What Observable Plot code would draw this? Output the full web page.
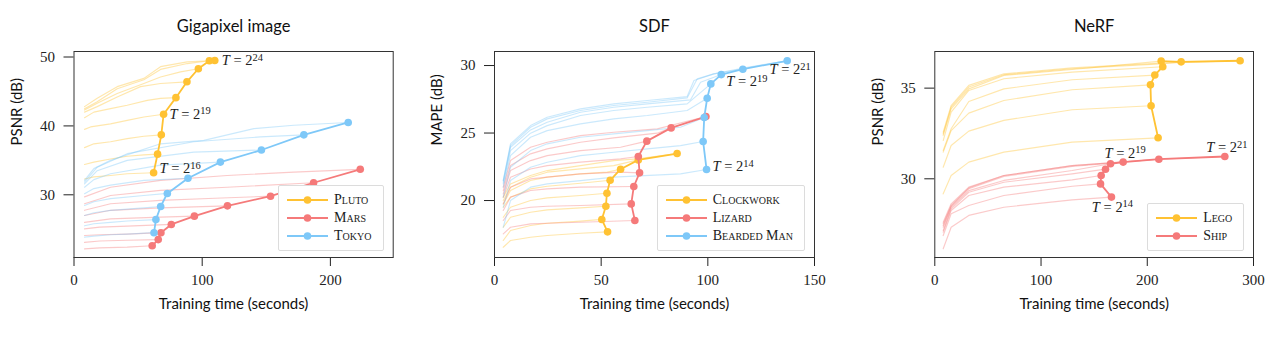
<!DOCTYPE html>
<html><head><meta charset="utf-8">
<script src="https://cdn.jsdelivr.net/npm/d3@7"></script>
<script src="https://cdn.jsdelivr.net/npm/@observablehq/plot@0.6"></script>
<style>
html,body{margin:0;padding:0;background:#fff;}
#wrap{position:relative;width:1280px;height:340px;overflow:hidden;background:#fff;}
.panel{position:absolute;top:0;}
.legend{position:absolute;box-sizing:border-box;background:#fff;border:1px solid #dcdcdc;border-radius:2px;padding:5px 11px 5px 8px;font-family:"Liberation Serif",serif;font-variant:small-caps;font-size:14px;color:#1a1a1a;}
.legend .row{display:flex;align-items:center;height:18px;white-space:nowrap;}
.legend svg{margin-right:6px;flex:none;}
</style></head><body><div id="wrap"></div>
<script>
// ---------------- Gigapixel image ----------------
const gigaT = [16,17,18,19,20,21,22,23,24];
const plutoTime = [62.1,65.2,68.1,69.9,79.5,88.1,97.0,105.6,109.8];
const plutoPSNR = [33.2,35.9,38.7,41.7,44.1,46.4,48.3,49.45,49.5];
const marsTime  = [61.0,65.7,67.8,75.9,93.9,119.7,153.3,186.9,223.3];
const marsPSNR  = [22.6,23.5,24.5,25.7,26.9,28.4,29.8,31.75,33.7];
const tokyoTime = [62.4,63.9,67.6,72.8,88.9,114.2,146.2,179.3,213.9];
const tokyoPSNR = [24.5,26.4,28.3,30.2,32.4,34.75,36.5,38.7,40.5];
const plutoCurves = [
  [[8.2,32.3],[15.5,32.6],[28.5,32.8],[41.5,33.05]],
  [[8.2,34.4],[15.5,34.75],[28.5,35.2],[41.5,35.6],[54.5,35.8]],
  [[8.2,36.85],[15.5,37.4],[28.5,37.7],[41.5,38.15],[54.5,38.5]],
  [[8.2,39.5],[12.9,39.85],[28.5,40.3],[41.5,40.8],[54.5,41.3]],
  [[8.2,41.2],[15.5,42.0],[28.5,42.5],[41.5,43.0],[57.1,43.7],[67.5,44.0]],
  [[8.2,42.0],[18.1,42.8],[33.7,44.2],[51.9,45.7],[67.5,46.15]],
  [[8.2,42.3],[18.1,43.3],[33.7,44.7],[54.5,46.15],[67.5,47.1],[83.1,47.85]],
  [[8.2,42.5],[18.1,43.5],[33.7,45.4],[54.5,46.7],[67.5,48.2],[88.3,49.05]],
  [[8.2,42.8],[18.1,44.0],[33.7,45.7],[54.5,46.9],[67.5,48.6],[88.3,49.3]]
];
const marsCurves = [
  [[8.2,22.15],[20.0,22.3],[41.5,22.4]],
  [[8.2,23.1],[20.0,23.3],[41.5,23.4]],
  [[8.2,24.1],[20.0,24.2],[41.5,24.3]],
  [[8.2,25.05],[20.0,25.3],[41.5,25.45]],
  [[8.2,26.0],[28.5,26.5],[67.5,26.75]],
  [[8.2,27.0],[28.5,27.75],[67.5,28.1]],
  [[8.2,27.75],[28.5,28.7],[67.5,29.2],[110.0,29.5]],
  [[8.2,28.7],[28.5,29.9],[67.5,30.65],[119.5,31.1]],
  [[8.2,29.7],[28.5,31.1],[67.5,32.1],[119.5,32.8],[171.5,33.3]]
];
const tokyoCurves = [
  [[8.2,23.85],[15.5,24.0],[28.5,24.2],[41.5,24.3]],
  [[8.2,25.5],[15.5,25.8],[28.5,26.0],[41.5,26.2]],
  [[8.2,27.0],[15.5,27.4],[28.5,27.75],[54.5,28.1]],
  [[8.2,28.45],[15.5,29.0],[28.5,29.45],[54.5,29.9]],
  [[8.2,30.15],[15.5,30.9],[28.5,31.4],[54.5,32.1]],
  [[8.2,31.1],[15.5,32.2],[28.5,33.05],[67.5,34.3]],
  [[8.2,31.6],[18.1,33.5],[41.5,35.0],[93.5,36.2]],
  [[8.2,31.85],[18.1,34.0],[41.5,35.97],[93.5,37.7],[145.5,38.4]],
  [[8.2,32.1],[15.5,33.8],[28.5,35.0],[67.5,37.4],[101.3,37.9],[140.3,39.6],[171.5,40.1]]
];

// ---------------- SDF ----------------
const sdfT = [14,15,16,17,18,19,20,21];
const clockTime  = [53.0,50.3,52.2,52.7,54.2,59.1,67.4,85.6];
const clockMAPE  = [17.68,18.6,19.58,20.54,21.5,22.32,23.01,23.48];
const lizardTime = [65.8,64.1,65.3,68.0,67.4,71.4,82.8,99.1];
const lizardMAPE = [18.52,19.75,21.04,22.05,23.26,24.4,25.38,26.22];
const beardTime  = [99.4,97.8,98.3,99.7,101.4,106.3,116.4,137.2];
const beardMAPE  = [22.3,24.37,26.15,27.58,28.64,29.33,29.73,30.35];
const clockCurves = [
  [[4.1,16.54],[7.5,17.04],[16.9,17.28],[24.7,17.41],[40.3,17.58]],
  [[4.1,17.04],[7.5,17.78],[16.9,18.15],[24.7,18.32],[40.3,18.47]],
  [[4.1,18.02],[7.5,18.76],[16.9,19.13],[24.7,19.31],[40.3,19.46]],
  [[4.1,18.76],[7.5,19.5],[16.9,20.0],[24.7,20.2],[40.3,20.37]],
  [[4.1,19.5],[7.5,20.25],[16.9,20.86],[24.7,21.06],[40.3,21.28]],
  [[4.1,19.75],[7.5,20.74],[16.9,21.48],[24.7,21.73],[40.3,21.97],[52.8,22.1]],
  [[4.1,20.0],[7.5,20.99],[16.9,21.73],[24.7,22.1],[40.3,22.34],[55.9,22.59]],
  [[4.1,20.25],[7.5,21.23],[16.9,21.85],[24.7,22.22],[40.3,22.59],[55.9,22.96],[66.9,23.09]]
];
const lizardCurves = [
  [[4.1,17.53],[7.5,18.02],[16.9,18.27],[24.7,18.32],[40.3,18.39]],
  [[4.1,18.52],[7.5,19.26],[16.9,19.5],[24.7,19.58],[40.3,19.63]],
  [[4.1,19.26],[7.5,20.25],[16.9,20.74],[24.7,20.86],[40.3,20.99]],
  [[4.1,19.75],[7.5,20.99],[16.9,21.6],[24.7,21.73],[40.3,21.97],[59.1,22.1]],
  [[4.1,20.25],[7.5,21.73],[16.9,22.34],[24.7,22.59],[40.3,22.84],[59.1,23.09]],
  [[4.1,20.49],[7.5,22.22],[16.9,22.96],[24.7,23.33],[40.3,23.7],[59.1,23.95]],
  [[4.1,20.74],[7.5,22.59],[16.9,23.46],[24.7,23.83],[40.3,24.32],[55.9,24.64],[76.3,24.99]],
  [[4.1,20.99],[7.5,22.96],[16.9,23.95],[24.7,24.32],[40.3,24.81],[55.9,25.06],[76.3,25.31]]
];
const beardCurves = [
  [[4.1,18.02],[7.5,20.0],[16.9,20.99],[24.7,21.23],[40.3,21.48],[55.9,21.73],[87.2,21.97]],
  [[4.1,19.5],[7.5,21.48],[16.9,22.47],[24.7,22.84],[40.3,23.33],[55.9,23.58],[71.6,23.83],[87.2,24.07]],
  [[4.1,20.25],[7.5,22.47],[16.9,23.7],[24.7,24.2],[40.3,24.69],[55.9,24.94],[71.6,25.18],[87.2,25.43]],
  [[4.1,20.99],[7.5,23.33],[16.9,24.69],[24.7,25.18],[40.3,25.68],[55.9,26.05],[71.6,26.3],[90.3,26.67]],
  [[4.1,21.23],[7.5,23.7],[16.9,24.99],[24.7,25.55],[40.3,26.3],[55.9,26.67],[71.6,26.91],[90.3,27.16]],
  [[4.1,21.36],[7.5,23.95],[16.9,25.23],[24.7,25.8],[40.3,26.54],[55.9,26.91],[71.6,27.16],[91.9,27.46],[96.6,28.76]],
  [[4.1,21.48],[7.5,24.07],[16.9,25.43],[24.7,26.05],[40.3,26.67],[55.9,27.04],[71.6,27.28],[90.3,27.6],[95.0,29.01],[102.8,29.38]],
  [[4.1,21.48],[7.5,24.2],[16.9,25.55],[24.7,26.17],[40.3,26.79],[55.9,27.16],[71.6,27.41],[90.3,27.7],[93.5,28.89],[102.8,29.38],[118.5,29.87]]
];

// ---------------- NeRF ----------------
const nerfT = [14,15,16,17,18,19,20,21];
const legoTime = [210.2,203.6,203.0,207.1,214.6,213.1,231.9,287.4];
const legoPSNR = [32.26,34.03,35.18,35.72,36.18,36.49,36.45,36.51];
const shipTime = [166.3,156.0,156.6,160.7,165.4,177.3,210.9,273.0];
const shipPSNR = [28.99,29.72,30.18,30.53,30.83,30.92,31.08,31.23];
const legoCurves = [
  [[7.9,29.17],[15.4,30.18],[32.0,30.92],[65.0,31.47],[129.3,32.02]],
  [[7.9,30.64],[15.4,31.84],[32.0,32.63],[65.0,33.22],[129.3,33.81]],
  [[7.9,31.47],[15.4,32.66],[32.0,33.62],[65.0,34.32],[129.3,34.91]],
  [[7.9,31.56],[15.4,32.76],[32.0,34.26],[65.0,34.96],[129.3,35.46]],
  [[7.9,32.11],[15.4,33.68],[32.0,34.87],[65.0,35.52],[129.3,35.88]],
  [[7.9,32.39],[15.4,33.86],[32.0,34.96],[65.0,35.7],[129.3,36.03]],
  [[7.9,32.48],[15.4,33.95],[32.0,35.06],[65.0,35.74],[129.3,36.07],[212.4,36.34]],
  [[7.9,32.57],[15.4,34.04],[32.0,35.15],[65.0,35.79],[129.3,36.12],[212.4,36.38]]
];
const shipCurves = [
  [[7.9,26.14],[15.4,27.33],[32.0,27.98],[65.0,28.43],[129.3,28.84]],
  [[7.9,26.87],[15.4,28.07],[32.0,28.53],[65.0,29.08],[129.3,29.59]],
  [[7.9,27.06],[15.4,28.25],[32.0,29.08],[65.0,29.54],[129.3,29.94]],
  [[7.9,27.15],[15.4,28.34],[32.0,29.26],[65.0,29.81],[129.3,30.27]],
  [[7.9,27.33],[15.4,28.43],[32.0,29.35],[65.0,29.91],[129.3,30.46]],
  [[7.9,27.42],[15.4,28.49],[32.0,29.45],[65.0,30.13],[129.3,30.68]],
  [[7.9,27.52],[15.4,28.53],[32.0,29.5],[65.0,30.18],[129.3,30.73]],
  [[7.9,27.61],[15.4,28.62],[32.0,29.54],[65.0,30.18],[129.3,30.73],[210.9,31.08]]
];

// ---------------- styling ----------------
const YELLOW = "#FFC233", RED = "#F57A7A", BLUE = "#7EC8F8";

const panels = [
  {left: 0, ml: 73.5, mr: 27.3, title: "Gigapixel image", ylabel: "PSNR (dB)",
   xdom: [0, 249], ydom: [20.9, 50.8], xticks: [0, 100, 200], yticks: [30, 40, 50],
   series: [
     {name: "Pluto", color: YELLOW, T: gigaT, time: plutoTime, val: plutoPSNR, curves: plutoCurves},
     {name: "Mars", color: RED, T: gigaT, time: marsTime, val: marsPSNR, curves: marsCurves},
     {name: "Tokyo", color: BLUE, T: gigaT, time: tokyoTime, val: tokyoPSNR, curves: tokyoCurves}],
   notes: [{s: 0, T: 24, dx: 7, dy: 0, anchor: "start"},
           {s: 0, T: 19, dx: 6, dy: 0, anchor: "start"},
           {s: 0, T: 16, dx: 6, dy: -4, anchor: "start"}],
   legend: {right: 1280 - 383.5, bottom: 340 - 251}},
  {left: 420, ml: 74, mr: 26, title: "SDF", ylabel: "MAPE (dB)",
   xdom: [0, 150], ydom: [15.78, 31.04], xticks: [0, 50, 100, 150], yticks: [20, 25, 30],
   series: [
     {name: "Clockwork", color: YELLOW, T: sdfT, time: clockTime, val: clockMAPE, curves: clockCurves},
     {name: "Lizard", color: RED, T: sdfT, time: lizardTime, val: lizardMAPE, curves: lizardCurves},
     {name: "Bearded Man", color: BLUE, T: sdfT, time: beardTime, val: beardMAPE, curves: beardCurves}],
   notes: [{s: 2, T: 14, dx: 6, dy: -3, anchor: "start"},
           {s: 2, T: 19, dx: 5, dy: 7, anchor: "start"},
           {s: 2, T: 21, dx: 3, dy: 9, anchor: "middle"}],
   legend: {right: 1280 - 805, bottom: 340 - 251}},
  {left: 860, ml: 74.3, mr: 27, title: "NeRF", ylabel: "PSNR (dB)",
   xdom: [0, 300], ydom: [25.66, 37.02], xticks: [0, 100, 200, 300], yticks: [30, 35],
   series: [
     {name: "Lego", color: YELLOW, T: nerfT, time: legoTime, val: legoPSNR, curves: legoCurves},
     {name: "Ship", color: RED, T: nerfT, time: shipTime, val: shipPSNR, curves: shipCurves}],
   notes: [{s: 1, T: 14, dx: 1, dy: 10, anchor: "middle"},
           {s: 1, T: 19, dx: 2, dy: -9, anchor: "middle"},
           {s: 1, T: 21, dx: 2, dy: -9, anchor: "middle"}],
   legend: {right: 1280 - 1244.3, bottom: 340 - 251}}
];

const SANS = "Lato, 'Open Sans', sans-serif";
const SERIF = "'Liberation Serif', 'DejaVu Serif', serif";
const wrap = document.getElementById("wrap");

function superscripts(svg) {
  const ns = "http://www.w3.org/2000/svg";
  svg.querySelectorAll("text").forEach(t => {
    const m = /^T = 2\^(\d+)$/.exec(t.textContent);
    if (!m) return;
    while (t.firstChild) t.removeChild(t.firstChild);
    const a = document.createElementNS(ns, "tspan");
    a.setAttribute("font-style", "italic"); a.textContent = "T";
    const b = document.createElementNS(ns, "tspan"); b.textContent = " = 2";
    const c = document.createElementNS(ns, "tspan");
    c.setAttribute("dy", "-0.42em"); c.setAttribute("font-size", "0.72em"); c.textContent = m[1];
    t.append(a, b, c);
  });
}

panels.forEach(p => {
  const marks = [];
  p.series.forEach(s => {
    const faint = [];
    s.curves.forEach((c, i) => {
      [...c, [s.time[i], s.val[i]]].forEach(q => faint.push({id: i, x: q[0], y: q[1]}));
    });
    marks.push(Plot.line(faint, {x: "x", y: "y", z: "id", stroke: s.color, strokeOpacity: 0.4, strokeWidth: 1.15}));
  });
  const pts = p.series.map(s => s.time.map((t, i) => ({x: t, y: s.val[i], T: s.T[i]})));
  p.series.forEach((s, k) => {
    marks.push(Plot.line(pts[k], {x: "x", y: "y", stroke: s.color, strokeWidth: 1.8}));
    marks.push(Plot.dot(pts[k], {x: "x", y: "y", fill: s.color, r: 3.8}));
  });
  p.notes.forEach(n => {
    const d = pts[n.s].filter(q => q.T === n.T);
    marks.push(Plot.text(d, {x: "x", y: "y", text: q => "T = 2^" + q.T, dx: n.dx, dy: n.dy,
      textAnchor: n.anchor, fontFamily: SERIF, fontSize: 14.5, fill: "#222"}));
  });
  marks.push(Plot.frame({stroke: "#333", strokeWidth: 1}));
  marks.push(Plot.text([p.title], {text: d => d, frameAnchor: "top", dy: -31, fontFamily: SANS, fontSize: 16.5, fill: "#111"}));
  marks.push(Plot.text([p.ylabel], {text: d => d, frameAnchor: "left", dx: -57, dy: -9, rotate: -90, fontFamily: SANS, fontSize: 15, fill: "#111"}));
  marks.push(Plot.text(["Training time (seconds)"], {text: d => d, frameAnchor: "bottom", dy: 51, fontFamily: SANS, fontSize: 15, fill: "#111"}));

  const svg = Plot.plot({
    width: 420, height: 340,
    marginLeft: p.ml, marginRight: p.mr, marginTop: 51, marginBottom: 83,
    style: {background: "transparent", color: "#222", fontFamily: SERIF, fontSize: "15px", overflow: "visible"},
    x: {domain: p.xdom, ticks: p.xticks, tickSize: 9, tickPadding: 8, label: null},
    y: {domain: p.ydom, ticks: p.yticks, tickSize: 10, tickPadding: 9, label: null},
    marks
  });
  superscripts(svg);
  const holder = document.createElement("div");
  holder.className = "panel";
  holder.style.left = p.left + "px";
  holder.appendChild(svg);
  wrap.appendChild(holder);

  const lg = document.createElement("div");
  lg.className = "legend";
  lg.style.right = p.legend.right + "px";
  lg.style.bottom = p.legend.bottom + "px";
  p.series.forEach(s => {
    const row = document.createElement("div");
    row.className = "row";
    row.innerHTML = `<svg width="41" height="10"><line x1="0" x2="41" y1="5" y2="5" stroke="${s.color}" stroke-width="1.8"/><circle cx="20.5" cy="5" r="3.8" fill="${s.color}"/></svg><span>${s.name}</span>`;
    lg.appendChild(row);
  });
  wrap.appendChild(lg);
});
</script></body></html>
